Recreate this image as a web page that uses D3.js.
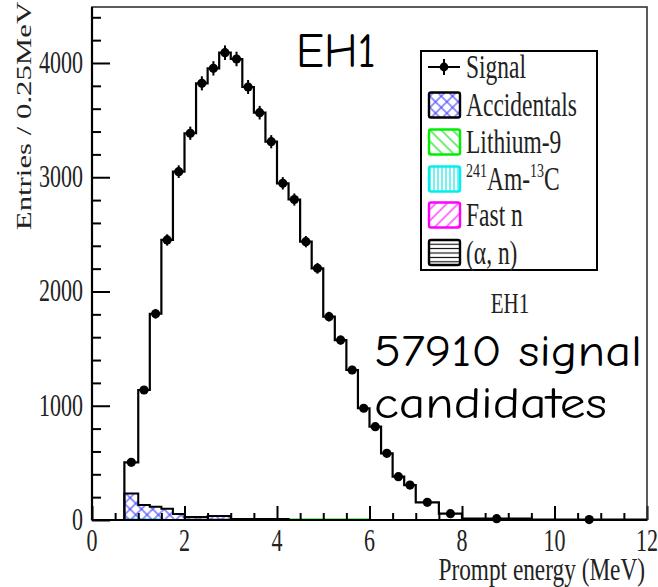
<!DOCTYPE html>
<html><head><meta charset="utf-8">
<script src="https://cdn.jsdelivr.net/npm/d3@7"></script>
<style>html,body{margin:0;padding:0;background:#fff;}svg{display:block}</style>
</head><body>
<svg id="c" width="658" height="587"></svg>
<script>
// ---------- data ----------
const binEdges = [0.7,1.0,1.25,1.5,1.75,2.0,2.25,2.5,2.75,3.0,3.25,3.5,3.75,4.0,4.25,4.5,4.75,5.0,5.25,5.5,5.75,6.0,6.25,6.5,6.75,7.0,7.5,8.0,9.5,12];
const signal = [505,1138,1805,2451,3049,3385,3822,3953,4090,4035,3790,3565,3311,2947,2805,2436,2203,1780,1575,1313,978,817,584,379,306,155,55,12,4];
const accidentals = [228,127,113,98,52,24,24,33,33,6,6,6,6,6,0,0,0,0,0,0,0,0,0,0,0,0,0,0,0];
const lithium9 = [0,0,0,0,0,0,0,0,0,0,0,0,0,0,5,5,5,5,5,5,5,0,0,0,0,0,0,0,0];
const amC = [4,4,4,0,0,0,0,0,0,0,0,0,0,0,0,0,0,0,0,0,0,0,0,0,0,0,0,0,0];
const fastN = [0,0,0,0,0,0,0,0,0,0,0,0,0,0,0,0,0,0,0,0,0,0,0,0,0,0,0,0,0];
const alphaN = [0,0,0,0,0,3,3,3,3,3,3,3,3,3,0,0,0,0,0,0,0,0,0,0,0,0,0,0,0];
const xMajorTicks = [0,2,4,6,8,10,12];
const xMinorTicks = [0.5,1,1.5,2.5,3,3.5,4.5,5,5.5,6.5,7,7.5,8.5,9,9.5,10.5,11,11.5];
const yMajorTicks = [0,1000,2000,3000,4000];
const yMinorTicks = [200,400,600,800,1200,1400,1600,1800,2200,2400,2600,2800,3200,3400,3600,3800,4200,4400];
const xTitle = "Prompt energy (MeV)";
const yTitle = "Entries / 0.25MeV";

// ---------- setup ----------
const svg = d3.select("#c");
const L = 92, R = 647, T = 7, B = 520;
const x = d3.scaleLinear().domain([0,12]).range([L,R]);
const y = d3.scaleLinear().domain([0,4490]).range([B,T]);
const SERIF = "'Liberation Serif','Times New Roman',serif";
const SY = 1.4;

const defs = svg.append("defs");
function linePattern(id, color, size, rot, cross, sw) {
  const p = defs.append("pattern").attr("id", id).attr("patternUnits","userSpaceOnUse")
    .attr("width", size).attr("height", size).attr("patternTransform", `rotate(${rot})`);
  p.append("line").attr("x1",size/2).attr("y1",-1).attr("x2",size/2).attr("y2",size+1)
    .attr("stroke",color).attr("stroke-width",sw);
  if (cross) p.append("line").attr("x1",-1).attr("y1",size/2).attr("x2",size+1).attr("y2",size/2)
    .attr("stroke",color).attr("stroke-width",sw);
}
linePattern("pAcc", "#3c3cff", 8, 45, true, 1.1);
linePattern("pLi9", "#00dd00", 8, -45, false, 1.1);
linePattern("pAmC", "#00e6e6", 4, 0, false, 1.1);
linePattern("pFast", "#ff00ff", 8, 45, false, 1.1);
linePattern("pAN", "#000000", 4.4, 90, false, 1.1);

const layers = [
  {data: amC, fill: "url(#pAmC)", stroke: "#00d8d8"},
  {data: alphaN, fill: "url(#pAN)", stroke: "#000"},
  {data: fastN, fill: "url(#pFast)", stroke: "#ff00ff"},
  {data: lithium9, fill: "url(#pLi9)", stroke: "#00dd00"},
  {data: accidentals, fill: "url(#pAcc)", stroke: "#000"}
];

// ---------- stacked backgrounds ----------
const base = signal.map(() => 0);
const gBg = svg.append("g");
layers.forEach(layer => {
  const tops = layer.data.map((v,i) => base[i] + v);
  layer.data.forEach((v,i) => {
    if (v <= 0) return;
    gBg.append("rect").attr("x", x(binEdges[i])).attr("width", x(binEdges[i+1]) - x(binEdges[i]))
      .attr("y", y(tops[i])).attr("height", y(base[i]) - y(tops[i])).attr("fill", layer.fill);
  });
  let i = 0;
  while (i < layer.data.length) {
    if (layer.data[i] <= 0) { i++; continue; }
    let d = `M${x(binEdges[i])},${y(base[i])}`;
    let j = i;
    while (j < layer.data.length && layer.data[j] > 0) {
      d += `V${y(tops[j])}H${x(binEdges[j+1])}`;
      j++;
    }
    d += `V${y(base[j-1])}`;
    gBg.append("path").attr("d", d).attr("fill","none").attr("stroke", layer.stroke).attr("stroke-width", 2);
    i = j;
  }
  tops.forEach((t,k) => base[k] = t);
});

// ---------- signal histogram ----------
const stepPts = [[binEdges[0], 0]];
signal.forEach((v,i) => { stepPts.push([binEdges[i], v]); stepPts.push([binEdges[i+1], v]); });
stepPts.push([binEdges[binEdges.length-1], 0]);
svg.append("path").attr("d", d3.line().x(d => x(d[0])).y(d => y(d[1]))(stepPts))
  .attr("fill","none").attr("stroke","#000").attr("stroke-width",2.2);

const centers = signal.map((v,i) => (binEdges[i] + binEdges[i+1]) / 2);
const gPts = svg.append("g");
signal.forEach((v,i) => {
  const e = Math.sqrt(v);
  gPts.append("line").attr("x1", x(centers[i])).attr("x2", x(centers[i]))
    .attr("y1", y(v + e)).attr("y2", Math.min(B, y(v - e))).attr("stroke","#000").attr("stroke-width",2);
  gPts.append("circle").attr("cx", x(centers[i])).attr("cy", y(v)).attr("r", 4.6).attr("fill","#000");
});

// ---------- axes ----------
const gx = svg.append("g").attr("transform", `translate(0,${B})`);
gx.call(d3.axisBottom(x).tickValues(xMinorTicks).tickSize(-7).tickFormat(""));
gx.append("g").call(d3.axisBottom(x).tickValues(xMajorTicks).tickSize(-14).tickFormat(""));
const gy = svg.append("g").attr("transform", `translate(${L},0)`);
gy.call(d3.axisLeft(y).tickValues(yMinorTicks).tickSize(-9).tickFormat(""));
gy.append("g").call(d3.axisLeft(y).tickValues(yMajorTicks).tickSize(-18).tickFormat(""));
svg.selectAll(".domain").remove();
svg.selectAll(".tick line").attr("stroke","#000").attr("stroke-width",2);

// frame
svg.append("rect").attr("x",L).attr("y",T).attr("width",R-L).attr("height",B-T)
  .attr("fill","none").attr("stroke","#333").attr("stroke-width",1.6);
svg.append("line").attr("x1",L).attr("x2",L).attr("y1",T).attr("y2",B).attr("stroke","#000").attr("stroke-width",2.2);
svg.append("line").attr("x1",L).attr("x2",R).attr("y1",B).attr("y2",B).attr("stroke","#000").attr("stroke-width",2.2);

function stext(px, py, str, size, anchor, extra) {
  return svg.append("text").attr("transform", `translate(${px},${py}) ${extra || `scale(1,${SY})`}`)
    .attr("font-family", SERIF).attr("font-size", size).attr("text-anchor", anchor || "start")
    .attr("fill","#222").text(str);
}
xMajorTicks.forEach(t => stext(x(t), 551, d3.format("d")(t), 22, "middle"));
yMajorTicks.forEach(t => stext(83, y(t) + 10, d3.format("d")(t), 22, "end"));
stext(645, 580, xTitle, 23.3, "end");
stext(31, 116, yTitle, 22, "middle", `rotate(-90) scale(${SY},1)`);
stext(510, 313, "EH1", 21, "middle");

// ---------- legend ----------
const lg = svg.append("g");
lg.append("rect").attr("x",421).attr("y",51).attr("width",176).attr("height",219)
  .attr("fill","#fff").attr("stroke","#000").attr("stroke-width",2);
const legendRows = [
  {label: "Signal", yc: 67},
  {label: "Accidentals", yc: 105, fill: "url(#pAcc)", stroke: "#000"},
  {label: "Lithium-9", yc: 142, fill: "url(#pLi9)", stroke: "#00ee00"},
  {label: "AmC", yc: 179, fill: "url(#pAmC)", stroke: "#00eeee"},
  {label: "Fast n", yc: 215, fill: "url(#pFast)", stroke: "#ff00ff"},
  {label: "(α, n)", yc: 252.5, fill: "url(#pAN)", stroke: "#000"}
];
legendRows.forEach(r => {
  if (!r.fill) {
    lg.append("line").attr("x1",428).attr("x2",460).attr("y1",r.yc).attr("y2",r.yc).attr("stroke","#000").attr("stroke-width",2);
    lg.append("line").attr("x1",444).attr("x2",444).attr("y1",r.yc-8).attr("y2",r.yc+8).attr("stroke","#000").attr("stroke-width",2);
    lg.append("circle").attr("cx",444).attr("cy",r.yc).attr("r",4.4).attr("fill","#000");
  } else {
    lg.append("rect").attr("x",429).attr("y",r.yc-12.5).attr("width",31).attr("height",25).attr("rx",2)
      .attr("fill","#fff").attr("stroke","none");
    lg.append("rect").attr("x",429).attr("y",r.yc-12.5).attr("width",31).attr("height",25).attr("rx",2)
      .attr("fill",r.fill).attr("stroke",r.stroke).attr("stroke-width",2.4);
  }
  if (r.label === "AmC") {
    const t = stext(466, r.yc + 11, "", 23.5, "start");
    t.append("tspan").attr("font-size",14).attr("dy",-9).text("241");
    t.append("tspan").attr("dy",9).text("Am-");
    t.append("tspan").attr("font-size",14).attr("dy",-9).text("13");
    t.append("tspan").attr("dy",9).text("C");
  } else {
    stext(466, r.yc + 11, r.label, 23.5, "start");
  }
});

// ---------- annotations ----------
const HAND = "'Comic Sans MS','Comic Neue',Lato,'DejaVu Sans',sans-serif";
svg.append("text").attr("x",296).attr("y",67).attr("font-family",HAND).attr("font-size",48)
  .attr("textLength",80).attr("lengthAdjust","spacingAndGlyphs").attr("fill","#000").text("EH1");
svg.append("text").attr("x",374).attr("y",366).attr("font-family",HAND).attr("font-size",45)
  .attr("textLength",268).attr("lengthAdjust","spacingAndGlyphs").attr("fill","#000").text("57910 signal");
svg.append("text").attr("x",374).attr("y",418).attr("font-family",HAND).attr("font-size",45)
  .attr("textLength",233).attr("lengthAdjust","spacingAndGlyphs").attr("fill","#000").text("candidates");
</script>
</body></html>
